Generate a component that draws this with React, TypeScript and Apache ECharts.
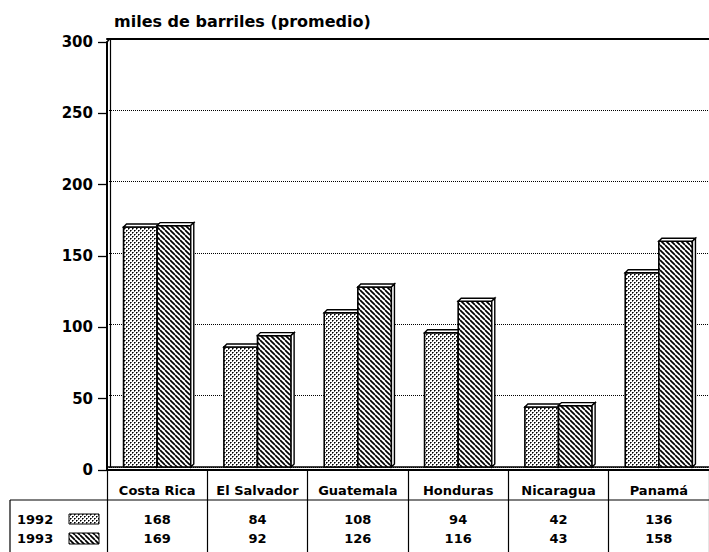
import React, { useEffect, useRef } from "react";
import * as echarts from "echarts";

const categories = ["Costa Rica", "El Salvador", "Guatemala", "Honduras", "Nicaragua", "Panamá"];
const years = ["1992", "1993"];
const values1992 = [168, 84, 108, 94, 42, 136];
const values1993 = [169, 92, 126, 116, 43, 158];
const yMin = 0;
const yMax = 300;
const yStep = 50;
const titleText = "miles de barriles (promedio)";

const FONT = "'DejaVu Sans', sans-serif";

function makeDots(): HTMLCanvasElement {
  const c = document.createElement("canvas");
  c.width = 4;
  c.height = 4;
  const g = c.getContext("2d")!;
  g.fillStyle = "#fff";
  g.fillRect(0, 0, 4, 4);
  g.fillStyle = "#000";
  g.fillRect(0, 0, 1, 1);
  g.fillRect(2, 2, 1, 1);
  g.fillStyle = "rgba(0,0,0,0.6)";
  g.fillRect(1, 0, 1, 1);
  g.fillRect(0, 1, 1, 1);
  g.fillRect(3, 2, 1, 1);
  g.fillRect(2, 3, 1, 1);
  return c;
}

function makeHatch(): HTMLCanvasElement {
  const s = 5;
  const c = document.createElement("canvas");
  c.width = s;
  c.height = s;
  const g = c.getContext("2d")!;
  g.fillStyle = "#fff";
  g.fillRect(0, 0, s, s);
  g.strokeStyle = "#000";
  g.lineWidth = 1.7;
  for (let k = -1; k <= 1; k++) {
    g.beginPath();
    g.moveTo(k * s, 0);
    g.lineTo(k * s + s, s);
    g.stroke();
  }
  return c;
}

export default function App() {
  const ref = useRef<HTMLDivElement>(null);

  useEffect(() => {
    if (!ref.current) return;
    const chart = echarts.init(ref.current, undefined, { renderer: "svg" });
    const dots = { image: makeDots(), repeat: "repeat" } as any;
    const hatch = { image: makeHatch(), repeat: "repeat" } as any;
    const patterns = [dots, hatch];

    const makeRender = (side: number) => (params: any, api: any) => {
      const idx = api.value(0);
      const val = api.value(1);
      const top = api.coord([idx, val]);
      const base = api.coord([idx, 0]);
      const band = api.size([1, 0])[0];
      const bw = band * 0.335;
      const cx = top[0];
      const x0 = side === 0 ? cx - bw : cx;
      const yT = top[1];
      const yB = base[1];
      const d = 3;
      return {
        type: "group",
        children: [
          {
            type: "rect",
            shape: { x: x0, y: yT, width: bw, height: yB - yT },
            style: { fill: patterns[side], stroke: "#000", lineWidth: 1.6 },
          },
          {
            type: "polygon",
            shape: { points: [[x0, yT], [x0 + d, yT - d], [x0 + bw + d, yT - d], [x0 + bw, yT]] },
            style: { fill: "#fff", stroke: "#000", lineWidth: 1.4 },
          },
          {
            type: "polygon",
            shape: { points: [[x0 + bw, yT], [x0 + bw + d, yT - d], [x0 + bw + d, yB - d], [x0 + bw, yB]] },
            style: { fill: "#fff", stroke: "#000", lineWidth: 1.4 },
          },
        ],
      };
    };

    const labelFormatter = (_v: string, i: number) =>
      `{c|${categories[i]}}\n{v|${values1992[i]}}\n{v|${values1993[i]}}`;

    const option: any = {
      animation: false,
      backgroundColor: "#fff",
      title: {
        text: titleText,
        left: 109,
        top: 8,
        textStyle: { fontFamily: FONT, fontWeight: "bold", fontSize: 16, color: "#000" },
      },
      grid: [
        { left: 107, width: 610, top: 42, bottom: 82 },
        { left: 107, width: 610, top: 38.5, bottom: 85 },
      ],
      xAxis: [
        {
          gridIndex: 0,
          type: "category",
          data: categories,
          position: "bottom",
          axisLine: { lineStyle: { color: "#000", width: 2 } },
          axisTick: { show: true, length: 85, lineStyle: { color: "#000", width: 1.2 } },
          axisLabel: {
            interval: 0,
            margin: 0,
            formatter: labelFormatter,
            rich: {
              c: { fontFamily: FONT, fontWeight: "bold", fontSize: 13, color: "#000", lineHeight: 40 },
              v: { fontFamily: FONT, fontWeight: "bold", fontSize: 13, color: "#000", lineHeight: 19 },
            },
          },
          splitLine: { show: false },
        },
        {
          gridIndex: 1,
          type: "category",
          data: categories,
          position: "bottom",
          axisLine: { lineStyle: { color: "#000", width: 1.5 } },
          axisTick: { show: false },
          axisLabel: { show: false },
          splitLine: { show: false },
        },
        {
          gridIndex: 1,
          type: "category",
          data: categories,
          position: "top",
          axisLine: { lineStyle: { color: "#000", width: 2 } },
          axisTick: { show: false },
          axisLabel: { show: false },
          splitLine: { show: false },
        },
      ],
      yAxis: [
        {
          gridIndex: 0,
          type: "value",
          min: yMin,
          max: yMax,
          interval: yStep,
          axisLine: { show: true, lineStyle: { color: "#000", width: 2 } },
          axisTick: { show: true, length: 9, lineStyle: { color: "#000", width: 1.3 } },
          axisLabel: {
            margin: 14,
            fontFamily: FONT,
            fontWeight: "bold",
            fontSize: 15,
            color: "#000",
          },
          splitLine: { show: false },
        },
        {
          gridIndex: 1,
          type: "value",
          min: yMin,
          max: yMax,
          interval: yStep,
          offset: -3,
          axisLine: { show: true, lineStyle: { color: "#000", width: 1.2 } },
          axisTick: { show: false },
          axisLabel: { show: false },
          splitLine: { show: true, lineStyle: { color: "#000", type: [1, 1], width: 1 } },
        },
      ],
      series: [
        {
          name: years[0],
          type: "custom",
          xAxisIndex: 1,
          yAxisIndex: 1,
          renderItem: makeRender(0),
          encode: { x: 0, y: 1 },
          data: values1992.map((v, i) => [i, v]),
          z: 5,
        },
        {
          name: years[1],
          type: "custom",
          xAxisIndex: 1,
          yAxisIndex: 1,
          renderItem: makeRender(1),
          encode: { x: 0, y: 1 },
          data: values1993.map((v, i) => [i, v]),
          z: 6,
        },
      ],
      graphic: [
        { type: "line", shape: { x1: 107, y1: 42, x2: 110, y2: 38.5 }, style: { stroke: "#000", lineWidth: 1.5 } },
        { type: "line", shape: { x1: 10, y1: 500, x2: 709, y2: 500 }, style: { stroke: "#000", lineWidth: 1.2 } },
        { type: "line", shape: { x1: 10, y1: 500, x2: 10, y2: 552 }, style: { stroke: "#000", lineWidth: 1.2 } },
        {
          type: "text",
          x: 17,
          y: 519.5,
          style: { text: years[0], fontFamily: FONT, fontWeight: "bold", fontSize: 13, fill: "#000", verticalAlign: "middle" },
        },
        {
          type: "text",
          x: 17,
          y: 538.5,
          style: { text: years[1], fontFamily: FONT, fontWeight: "bold", fontSize: 13, fill: "#000", verticalAlign: "middle" },
        },
        {
          type: "rect",
          shape: { x: 69, y: 514, width: 30, height: 10 },
          style: { fill: dots, stroke: "#000", lineWidth: 1 },
        },
        {
          type: "rect",
          shape: { x: 69, y: 533, width: 30, height: 11 },
          style: { fill: hatch, stroke: "#000", lineWidth: 1 },
        },
      ],
    };
    chart.setOption(option);
    return () => chart.dispose();
  }, []);

  return (
    <div
      ref={ref}
      style={{ position: "fixed", left: 0, top: 0, width: 709, height: 552, background: "#fff" }}
    />
  );
}
